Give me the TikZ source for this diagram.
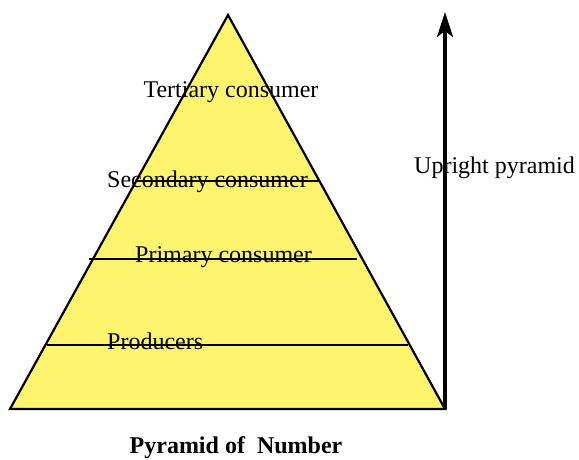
\documentclass[tikz,border=0pt]{standalone}
\usepackage{fontspec}
\setmainfont{Liberation Serif}
\usetikzlibrary{arrows.meta}

\definecolor{pyryellow}{RGB}{255,244,110}

\tikzset{
  layer/.style={line width=2.4pt},
  lbl/.style={inner sep=0pt, font=\fontsize{24}{27}\selectfont},
}

\begin{document}
\begin{tikzpicture}[x=1pt, y=-1pt]
\useasboundingbox (0,0) rectangle (579,459);
% corners of the pyramid
\coordinate (apex) at (228,15);
\coordinate (baseL) at (10,409);
\coordinate (baseR) at (445,409);
\coordinate (arrowtop) at (445,12);
\draw[fill=pyryellow, line width=2.2pt, line join=miter] (baseL) -- (apex) -- (baseR) -- cycle;
% dividing lines
\draw[layer] (136,181) -- (319,181); % secondary
\draw[layer] (89,259) -- (357,259);  % primary
\draw[layer] (47,345) -- (408,345);  % producers
% the arrow
\draw[line width=3.2pt, -{Stealth[length=25pt, width=16pt, inset=6pt]}] (baseR) -- (arrowtop);
% texts
\node[lbl] (tert) at (231,92) {Tertiary consumer};
\node[lbl, anchor=west] (sec) at (107,182) {Secondary consumer};
\node[lbl, anchor=west] (prim) at (135,257) {Primary consumer};
\node[lbl, anchor=west] (prod) at (107,341) {Producers};
\node[lbl, anchor=west] (upr) at (414,168) {Upright pyramid};
\node[lbl, font=\fontsize{24}{27}\selectfont\bfseries] (title) at (236,448) {Pyramid of\ \ Number};
\end{tikzpicture}
\end{document}
